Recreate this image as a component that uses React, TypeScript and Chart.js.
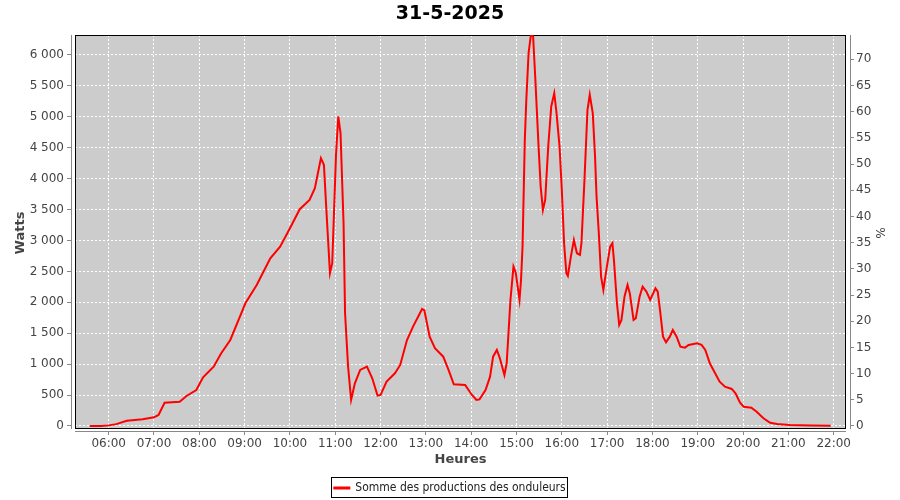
import React, { useEffect, useRef } from 'react';
import { Chart, registerables } from 'chart.js';

Chart.register(...registerables);

const chartTitle = '31-5-2025';
const seriesLabel = 'Somme des productions des onduleurs';
const xTitle = 'Heures';
const yTitle = 'Watts';
const y1Title = '%';

const times = [
  '05:35', '05:50', '06:00', '06:10', '06:24', '06:45', '07:00', '07:06', '07:14', '07:34',
  '07:43', '07:56', '08:05', '08:19', '08:29', '08:41', '08:52', '09:01', '09:16', '09:34',
  '09:47', '10:00', '10:13', '10:26', '10:33', '10:41', '10:45', '10:48', '10:50', '10:53',
  '10:56', '10:58', '11:01', '11:04', '11:07', '11:11', '11:13', '11:17', '11:21', '11:26',
  '11:33', '11:42', '11:49', '11:56', '12:00', '12:08', '12:19', '12:26', '12:35', '12:43',
  '12:55', '12:58', '13:05', '13:12', '13:23', '13:30', '13:37', '13:52', '14:01', '14:07',
  '14:11', '14:19', '14:25', '14:29', '14:34', '14:38', '14:44', '14:47', '14:52', '14:56',
  '14:59', '15:04', '15:06', '15:08', '15:11', '15:13', '15:16', '15:19', '15:22', '15:25',
  '15:29', '15:32', '15:35', '15:38', '15:42', '15:46', '15:50', '15:53', '15:57', '16:00',
  '16:03', '16:06', '16:08', '16:12', '16:16', '16:20', '16:24', '16:26', '16:30', '16:34',
  '16:37', '16:41', '16:44', '16:46', '16:49', '16:52', '16:55', '16:59', '17:04', '17:07',
  '17:09', '17:13', '17:16', '17:19', '17:23', '17:27', '17:30', '17:35', '17:38', '17:43',
  '17:47', '17:52', '17:57', '18:04', '18:07', '18:10', '18:14', '18:18', '18:23', '18:27',
  '18:32', '18:37', '18:43', '18:48', '18:59', '19:05', '19:10', '19:16', '19:23', '19:29',
  '19:36', '19:45', '19:50', '19:56', '20:01', '20:11', '20:18', '20:27', '20:36', '20:45',
  '21:02', '21:30', '21:56',
];

const watts = [
  0, 0, 10, 30, 86, 108, 140, 178, 377, 393,
  485, 582, 788, 960, 1176, 1391, 1715, 1985, 2281, 2713,
  2901, 3199, 3506, 3657, 3846, 4331, 4223, 3548, 3118, 2471,
  2632, 3333, 4385, 5005, 4736, 3280, 1824, 960, 421, 691,
  906, 960, 771, 491, 502, 717, 852, 987, 1391, 1607,
  1893, 1870, 1445, 1257, 1121, 906, 675, 663, 502, 421,
  430, 582, 798, 1121, 1230, 1095, 825, 1014, 2039, 2578,
  2480, 2039, 2362, 2901, 4627, 5275, 6030, 6320, 6300, 5598,
  4574, 3872, 3495, 3657, 4519, 5167, 5383, 5059, 4519, 3818,
  2956, 2471, 2427, 2739, 3009, 2794, 2767, 2956, 3980, 5113,
  5356, 5059, 4357, 3710, 3118, 2416, 2200, 2524, 2901, 2956,
  2686, 1985, 1634, 1715, 2092, 2281, 2147, 1715, 1742, 2092,
  2254, 2173, 2039, 2228, 2173, 1877, 1445, 1354, 1445, 1553,
  1445, 1283, 1267, 1311, 1338, 1311, 1230, 1014, 852, 717,
  636, 599, 529, 377, 312, 296, 231, 124, 53, 32,
  16, 8, 5,
];

const hourTicks = [
  '06:00', '07:00', '08:00', '09:00', '10:00', '11:00', '12:00', '13:00', '14:00',
  '15:00', '16:00', '17:00', '18:00', '19:00', '20:00', '21:00', '22:00',
];
const wattTicks = [0, 500, 1000, 1500, 2000, 2500, 3000, 3500, 4000, 4500, 5000, 5500, 6000];
const percentTicks = [0, 5, 10, 15, 20, 25, 30, 35, 40, 45, 50, 55, 60, 65, 70];

const FONT = 'DejaVu Sans';
const LEGEND_FONT = "'DejaVu Sans Condensed', 'Liberation Sans', sans-serif";
const toMin = (s: string) => {
  const [h, m] = s.split(':').map(Number);
  return h * 60 + m;
};
const fmtMin = (v: number) => {
  const h = Math.floor(v / 60);
  const m = Math.round(v - h * 60);
  return `${String(h).padStart(2, '0')}:${String(m).padStart(2, '0')}`;
};
const fmtWatt = (v: number) =>
  v >= 1000 ? `${Math.floor(v / 1000)} ${String(v % 1000).padStart(3, '0')}` : String(v);

const X_MIN = 310.1;
const X_MAX = 1341.6;
const Y_MIN = -80.9;
const Y_MAX = 6323;
const Y1_MIN = -0.955;
const Y1_MAX = 74.64;

const plotDecor = {
  id: 'plotDecor',
  beforeDraw(chart: any) {
    const { ctx, chartArea: a } = chart;
    ctx.save();
    ctx.fillStyle = '#cccccc';
    ctx.fillRect(a.left + 4, a.top, a.right - a.left - 8, a.bottom - a.top - 2);
    ctx.restore();
  },
  beforeDatasetsDraw(chart: any) {
    const { ctx, chartArea: a } = chart;
    ctx.save();
    ctx.lineWidth = 1;
    ctx.strokeStyle = '#000000';
    ctx.strokeRect(a.left + 4.5, a.top + 0.5, a.right - a.left - 9, a.bottom - a.top - 3);
    ctx.strokeStyle = '#888888';
    ctx.beginPath();
    ctx.moveTo(a.left + 0.5, a.top);
    ctx.lineTo(a.left + 0.5, a.bottom - 2);
    ctx.moveTo(a.right + 0.5, a.top);
    ctx.lineTo(a.right + 0.5, a.bottom - 2);
    ctx.moveTo(a.left + 4, a.bottom + 0.5);
    ctx.lineTo(a.right - 4, a.bottom + 0.5);
    ctx.stroke();
    ctx.restore();
  },
  afterDraw(chart: any) {
    const hb = chart.legend && chart.legend.legendHitBoxes && chart.legend.legendHitBoxes[0];
    if (!hb) return;
    const { ctx } = chart;
    ctx.save();
    ctx.strokeStyle = '#000000';
    ctx.lineWidth = 1;
    const l = Math.round(hb.left) - 2.5;
    const r = Math.round(hb.left + hb.width) + 1.5;
    ctx.strokeRect(l, Math.round(hb.top) - 4.5, r - l, 20);
    ctx.restore();
  },
};

export default function App() {
  const canvasRef = useRef<HTMLCanvasElement | null>(null);

  useEffect(() => {
    if (!canvasRef.current) return;
    Chart.defaults.font.family = FONT;
    const points = times.map((t, i) => ({ x: toMin(t), y: watts[i] }));
    const chart = new Chart(canvasRef.current, {
      type: 'line',
      data: {
        datasets: [
          {
            label: seriesLabel,
            data: points,
            borderColor: '#ff0000',
            backgroundColor: '#ff0000',
            borderWidth: 2,
            pointRadius: 0,
            tension: 0,
            fill: false,
            yAxisID: 'y',
          },
        ],
      },
      options: {
        animation: false,
        responsive: false,
        maintainAspectRatio: false,
        layout: { padding: { left: 0, right: 0, top: 0, bottom: -4 } },
        plugins: {
          tooltip: { enabled: false },
          title: {
            display: true,
            text: chartTitle,
            color: '#000000',
            font: { family: FONT, size: 19, weight: 'bold' },
            padding: { top: 3, bottom: 9.2 },
          },
          legend: {
            display: true,
            position: 'bottom',
            labels: {
              color: '#222222',
              font: { family: LEGEND_FONT, size: 12 },
              boxWidth: 15,
              boxHeight: 1,
              padding: 4,
            },
          },
        },
        scales: {
          x: {
            type: 'linear',
            min: X_MIN,
            max: X_MAX,
            afterBuildTicks: (scale: any) => {
              scale.ticks = hourTicks.map((t) => ({ value: toMin(t) }));
            },
            afterFit: (scale: any) => {
              scale.height = 47;
            },
            ticks: {
              autoSkip: false,
              maxRotation: 0,
              color: '#444444',
              font: { family: FONT, size: 12 },
              padding: 2,
              callback: (v: any) => fmtMin(Number(v)),
            },
            grid: {
              color: '#ffffff',
              lineWidth: 1,
              drawTicks: true,
              tickLength: 4,
              tickColor: '#888888',
              tickBorderDash: [],
            },
            border: { display: false, dash: [2, 2] },
            title: {
              display: true,
              text: xTitle,
              color: '#444444',
              font: { family: FONT, size: 13, weight: 'bold' },
              padding: { top: 0, bottom: 10.2 },
            },
          },
          y: {
            type: 'linear',
            position: 'left',
            min: Y_MIN,
            max: Y_MAX,
            afterBuildTicks: (scale: any) => {
              scale.ticks = wattTicks.map((v) => ({ value: v }));
            },
            afterFit: (scale: any) => {
              scale.width = 71;
            },
            ticks: {
              autoSkip: false,
              color: '#444444',
              font: { family: FONT, size: 12 },
              padding: 3,
              callback: (v: any) => fmtWatt(Number(v)),
            },
            grid: {
              color: '#ffffff',
              lineWidth: 1,
              drawTicks: true,
              tickLength: 4,
              tickColor: '#888888',
              tickBorderDash: [],
            },
            border: { display: false, dash: [2, 2] },
            title: {
              display: true,
              text: yTitle,
              color: '#444444',
              font: { family: FONT, size: 13, weight: 'bold' },
              padding: { top: 13, bottom: 0 },
            },
          },
          y1: {
            type: 'linear',
            position: 'right',
            min: Y1_MIN,
            max: Y1_MAX,
            afterBuildTicks: (scale: any) => {
              scale.ticks = percentTicks.map((v) => ({ value: v }));
            },
            afterFit: (scale: any) => {
              scale.width = 50;
            },
            ticks: {
              autoSkip: false,
              color: '#444444',
              font: { family: FONT, size: 12 },
              padding: 2,
            },
            grid: {
              drawOnChartArea: false,
              drawTicks: true,
              tickLength: 4,
              tickColor: '#888888',
              tickBorderDash: [],
            },
            border: { display: false },
            title: {
              display: true,
              text: y1Title,
              color: '#444444',
              font: { family: FONT, size: 12 },
              padding: { top: 13.5, bottom: 0 },
            },
          },
        },
      },
      plugins: [plotDecor],
    } as any);
    return () => chart.destroy();
  }, []);

  return (
    <div style={{ position: 'fixed', left: 0, top: 0, width: 900, height: 500, background: '#ffffff' }}>
      <canvas ref={canvasRef} width={900} height={500} style={{ display: 'block' }} />
    </div>
  );
}
